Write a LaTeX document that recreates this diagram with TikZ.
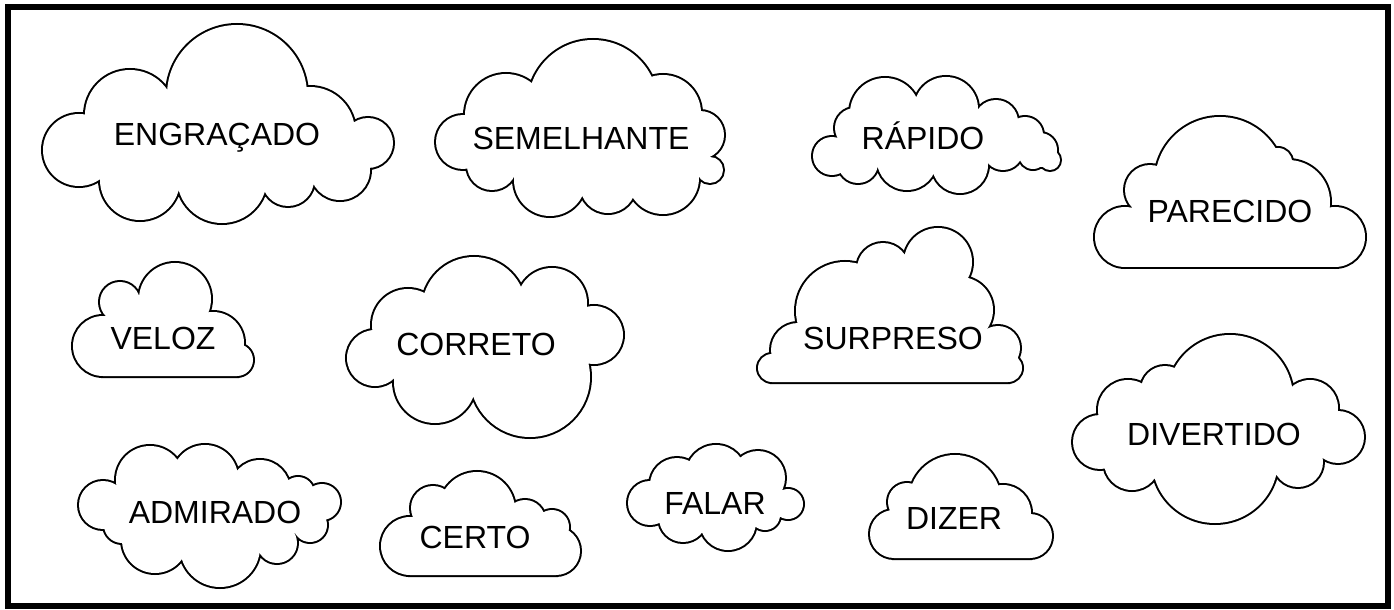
\documentclass[tikz,border=0pt]{standalone}
\usepackage{fontspec}
\setmainfont{Liberation Sans}
\tikzset{
  cloudink/.style={draw=black, line width=2pt},
  cloudpaper/.style={fill=white},
  lbl/.style={font=\fontsize{16pt}{18pt}\selectfont, inner sep=0pt, anchor=base, text=black},
  frame/.style={draw=black, line width=3pt}
}
% round cloud: #1 first centre, #2 list of x/y/r
\newcommand\roundcloud[2]{%
  \draw[cloudink] foreach \qx/\qy/\qr in {#2} {(\qx,\qy) circle[radius=\qr*0.5pt]};
  \fill[cloudpaper] foreach \qx/\qy/\qr in {#2} {(\qx,\qy) circle[radius=\qr*0.5pt]};
  \fill[cloudpaper] (#1) foreach \qx/\qy/\qr in {#2} {-- (\qx,\qy)} -- cycle;
}
% flat-bottomed cloud: #3 base rectangle
\newcommand\flatcloud[3]{%
  \draw[cloudink] #3 foreach \qx/\qy/\qr in {#2} {(\qx,\qy) circle[radius=\qr*0.5pt]};
  \fill[cloudpaper] #3 foreach \qx/\qy/\qr in {#2} {(\qx,\qy) circle[radius=\qr*0.5pt]};
  \fill[cloudpaper] (#1) foreach \qx/\qy/\qr in {#2} {-- (\qx,\qy)} -- cycle;
}
\begin{document}
\begin{tikzpicture}[x=0.5pt, y=-0.5pt]
\useasboundingbox[fill=white] (0,0) rectangle (1394,610);
\draw[frame] (8,7) rectangle (1388,606);

% ENGRAÇADO
\roundcloud{79,150}{79/150/36, 130/115/45, 237/95/70, 310/132/45, 368/143/25, 340/170/30, 288/180/26, 222/178/45, 140/180/40}
\node[lbl] (engracado) at (217,146) {ENGRAÇADO};

% SEMELHANTE
\roundcloud{463,142}{463/142/27, 506/115/41, 593/105/65, 663/113/38, 700/135/24, 710/170/13, 663/178/36, 608/185/28, 550/180/36, 492/165/25}
\node[lbl] (semelhante) at (581,150) {SEMELHANTE};

% RÁPIDO
\roundcloud{832,156}{832/156/19, 855/128/20, 885/113/35, 946/109/32, 996/122/22, 1025/135/18, 1040/150/17, 1050/160/10, 1033/155/14, 1003/150/20, 960/165/28, 907/160/30, 858/163/20}
\node[lbl] (rapido) at (923,150) {RÁPIDO};

% PARECIDO
\flatcloud{1125,237}{1125/237/30, 1150/190/25, 1220/182/65, 1278/162/14, 1288/202/42, 1335/237/30}{(1125,225) rectangle (1335,267)}
\node[lbl] (parecido) at (1230,223) {PARECIDO};

% VELOZ
\flatcloud{103,346}{103/346/30, 120/302/20, 175/299/36, 213/343/31, 237/360/16}{(103,340) rectangle (237,376)}
\node[lbl] (veloz) at (163,350) {VELOZ};

% CORRETO
\roundcloud{375,358}{375/358/28, 408/325/36, 474/309/52, 552/303/35, 594/335/29, 530/377/60, 435/382/41}
\node[lbl] (correto) at (476,355) {CORRETO};

% SURPRESO
\flatcloud{772,368}{772/368/14, 798/350/27, 845/311/49, 883/269/26, 938/262/34, 960/310/33, 998/348/22, 1008/368/14}{(772,345) rectangle (1008,382)}
\node[lbl] (surpreso) at (893,350) {SURPRESO};

% DIVERTIDO
\roundcloud{1100,442}{1100/442/27, 1128/410/30, 1165/390/24, 1230/398/63, 1310/408/28, 1338/437/26, 1298/462/25, 1215/460/63, 1132/462/28}
\node[lbl] (divertido) at (1214,445) {DIVERTIDO};

% ADMIRADO
\roundcloud{103,505}{103/505/24, 150/480/34, 205/478/33, 260/490/30, 298/493/16, 322/502/18, 310/525/17, 277/543/20, 220/547/40, 155/540/33, 122/525/18}
\node[lbl] (admirado) at (215,523) {ADMIRADO};

% CERTO
\flatcloud{410,546}{410/546/29, 433/508/22, 477/510/38, 525/520/20, 552/527/17, 556/551/24}{(410,545) rectangle (556,575)}
\node[lbl] (certo) at (475,548) {CERTO};

% FALAR
\roundcloud{650,503}{650/503/22, 677/485/27, 716/475/30, 758/478/27, 788/504/15, 765/515/15, 728/522/28, 683/518/24}
\node[lbl] (falar) at (715,514) {FALAR};

% DIZER
\flatcloud{894,534}{894/534/24, 907/502/19, 955/501/46, 1003/513/28, 1030/536/22}{(894,534) rectangle (1030,558)}
\node[lbl] (dizer) at (954,529) {DIZER};
\end{tikzpicture}
\end{document}
